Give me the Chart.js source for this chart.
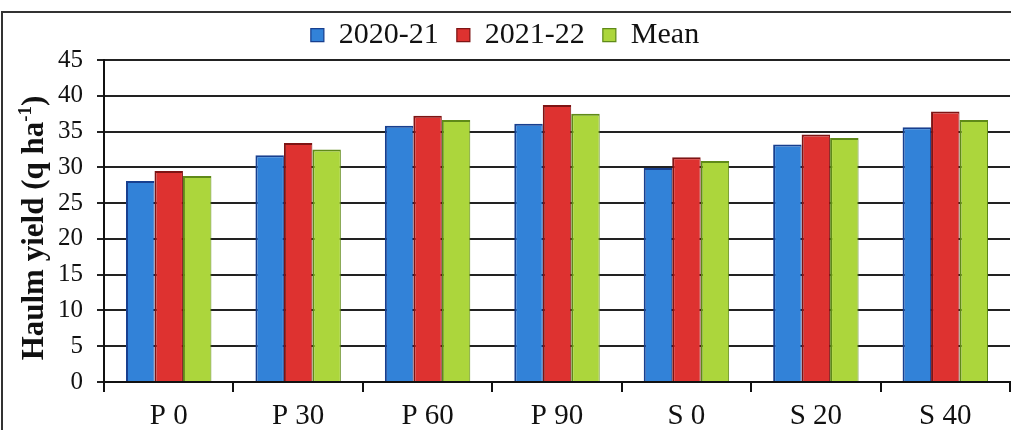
<!DOCTYPE html>
<html>
<head>
<meta charset="utf-8">
<script src="https://cdn.jsdelivr.net/npm/chart.js@4"></script>
<style>
  html, body { margin: 0; padding: 0; background: #fff; }
  #wrap { width: 1011px; height: 430px; }
</style>
</head>
<body>
<div id="wrap"><canvas id="haulmChart" width="1011" height="430"></canvas></div>
<script>
const categories = ["P 0", "P 30", "P 60", "P 90", "S 0", "S 20", "S 40"];
const yield2020 = [28.1, 31.7, 35.8, 36.1, 29.9, 33.2, 35.6];
const yield2021 = [29.5, 33.4, 37.2, 38.7, 31.4, 34.6, 37.8];
const yieldMean = [28.8, 32.5, 36.6, 37.5, 30.9, 34.1, 36.6];
const yMin = 0;
const yMax = 45;
const yStep = 5;

const serif = "'Liberation Serif', 'Times New Roman', serif";

// outer frame + y title with superscript
const framePlugin = {
  id: "frame",
  beforeDraw(chart) {
    const ctx = chart.ctx;
    ctx.save();
    ctx.fillStyle = "#fff";
    ctx.fillRect(0, 0, chart.width, chart.height);
    ctx.strokeStyle = "#333";
    ctx.lineWidth = 2;
    ctx.beginPath();
    ctx.moveTo(2, 430);
    ctx.lineTo(2, 12);
    ctx.lineTo(1011, 12);
    ctx.stroke();
    ctx.restore();
  },
  afterDraw(chart) {
    const ctx = chart.ctx;
    const main = "Haulm yield (q ha";
    const sup = "-1";
    const tail = ")";
    ctx.save();
    ctx.translate(43, 228);
    ctx.rotate(-Math.PI / 2);
    ctx.fillStyle = "#111";
    ctx.textBaseline = "alphabetic";
    ctx.font = "bold 31px " + serif;
    const w1 = ctx.measureText(main).width;
    const w3 = ctx.measureText(tail).width;
    ctx.font = "bold 19px " + serif;
    const w2 = ctx.measureText(sup).width;
    let x = -(w1 + w2 + w3) / 2;
    ctx.font = "bold 31px " + serif;
    ctx.fillText(main, x, 0);
    x += w1;
    ctx.font = "bold 19px " + serif;
    ctx.fillText(sup, x, -12);
    x += w2;
    ctx.font = "bold 31px " + serif;
    ctx.fillText(tail, x, 0);
    ctx.restore();
  },
};

const ctx = document.getElementById("haulmChart").getContext("2d");

new Chart(ctx, {
  type: "bar",
  data: {
    labels: categories,
    datasets: [
      {
        label: "2020-21",
        data: yield2020,
        backgroundColor: "#3282d8",
        borderColor: "#173f8f",
        borderWidth: { top: 2, left: 2, right: 1, bottom: 0 },
      },
      {
        label: "2021-22",
        data: yield2021,
        backgroundColor: "#de3230",
        borderColor: "#7e1414",
        borderWidth: { top: 2, left: 2, right: 1, bottom: 0 },
      },
      {
        label: "Mean",
        data: yieldMean,
        backgroundColor: "#acd63c",
        borderColor: "#5f8a18",
        borderWidth: { top: 2, left: 2, right: 1, bottom: 0 },
      },
    ],
  },
  options: {
    responsive: false,
    animation: false,
    layout: { padding: { top: 2, right: 1, left: 0, bottom: 0 } },
    datasets: {
      bar: { barPercentage: 1, categoryPercentage: 0.66 },
    },
    plugins: {
      legend: {
        position: "top",
        labels: {
          font: { family: serif, size: 30 },
          color: "#111",
          boxWidth: 13,
          boxHeight: 13,
          padding: 18,
        },
      },
      tooltip: { enabled: false },
    },
    scales: {
      x: {
        offset: true,
        afterFit(scale) {
          scale.height = 48;
        },
        grid: {
          display: true,
          offset: true,
          drawOnChartArea: false,
          drawTicks: true,
          tickLength: 10,
          color: "#111",
          lineWidth: 2,
        },
        border: { display: true, color: "#111", width: 2 },
        ticks: {
          font: { family: serif, size: 29 },
          color: "#111",
          padding: 7,
          maxRotation: 0,
        },
      },
      y: {
        min: yMin,
        max: yMax,
        afterFit(scale) {
          scale.width = 104;
        },
        grid: {
          color: "#222",
          lineWidth: 2,
          tickLength: 7,
        },
        border: { display: true, color: "#111", width: 2 },
        ticks: {
          stepSize: yStep,
          font: { family: serif, size: 25 },
          color: "#111",
          padding: 14,
        },
      },
    },
  },
  plugins: [framePlugin],
});
</script>
</body>
</html>
